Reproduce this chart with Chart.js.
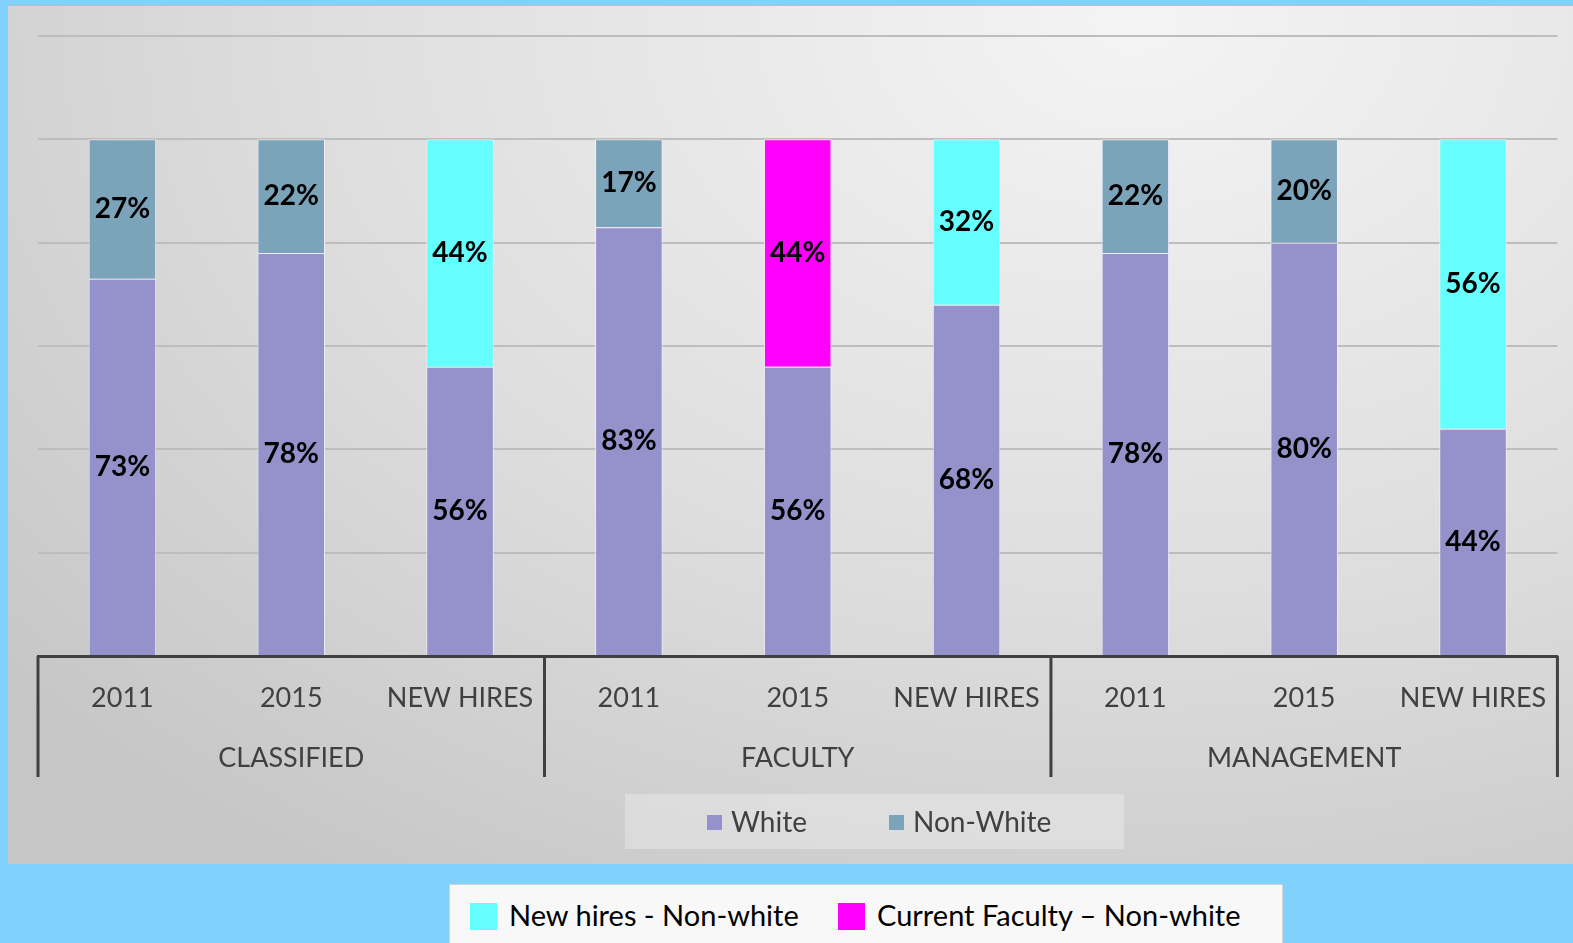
<!DOCTYPE html>
<html>
<head>
<meta charset="utf-8">
<script src="https://cdn.jsdelivr.net/npm/chart.js@4.4.1/dist/chart.umd.min.js"></script>
<style>
  html, body { margin: 0; padding: 0; }
  body { width: 1573px; height: 943px; background: #80d1fb; position: relative; overflow: hidden; font-family: Lato, sans-serif; }
  #panel {
    position: absolute; left: 8px; top: 5px; width: 1565px; height: 858px;
    background: radial-gradient(ellipse 95% 120% at 72% 2%, #f4f4f4 0%, #dedede 55%, #c6c6c6 100%);
    border-top: 1px solid #bdbdbd;
  }
  #wrap { position: absolute; left: 0; top: 0; width: 1565px; height: 858px; }
  #innerLegend {
    position: absolute; left: 617px; top: 788px; width: 499px; height: 55px;
    background: rgba(255,255,255,0.28);
    font-size: 28px; color: #404040;
  }
  .item { position: absolute; top: 0; height: 55px; line-height: 55px; white-space: nowrap; }
  .sw { display: inline-block; vertical-align: middle; margin-top: -4px; }
  #outerLegend {
    position: absolute; left: 449px; top: 884px; width: 832px; height: 70px;
    background: #f8f8f8; border: 1px solid #d4d4d4;
    font-size: 29px; color: #000;
  }
  #outerLegend .item { height: 60px; line-height: 60px; }
</style>
</head>
<body>
<div id="panel">
  <div id="wrap"><canvas id="chart"></canvas></div>
  <div id="innerLegend"></div>
</div>
<div id="outerLegend"></div>
<script>
// Data
const groups = ["CLASSIFIED", "FACULTY", "MANAGEMENT"];
const subLabels = ["2011", "2015", "NEW HIRES", "2011", "2015", "NEW HIRES", "2011", "2015", "NEW HIRES"];
const white = [73, 78, 56, 83, 56, 68, 78, 80, 44];
const nonWhite = [27, 22, 44, 17, 44, 32, 22, 20, 56];
// which kind of non-white segment each bar is
const topKind = ["nw", "nw", "hire", "nw", "faculty", "hire", "nw", "nw", "hire"];

const colors = {
  white: "#9491cb",
  nw: "#7ba3b9",
  hire: "#66ffff",
  faculty: "#ff00ff"
};

// Inner legend (series)
const innerItems = [["White", colors.white, 81], ["Non-White", colors.nw, 263]];
const innerLegend = document.getElementById("innerLegend");
innerItems.forEach(([name, col, x]) => {
  const d = document.createElement("div");
  d.className = "item";
  d.style.left = x + "px";
  d.innerHTML = `<span class="sw" style="width:15px;height:15px;background:${col};border:1px solid #ddd;margin-right:8px"></span>${name}`;
  innerLegend.appendChild(d);
});

// Outer legend (highlight colours)
const outerItems = [["New hires - Non-white", colors.hire, 20], ["Current Faculty \u2013 Non-white", colors.faculty, 388]];
const outerLegend = document.getElementById("outerLegend");
outerItems.forEach(([name, col, x]) => {
  const d = document.createElement("div");
  d.className = "item";
  d.style.left = x + "px";
  d.innerHTML = `<span class="sw" style="width:27px;height:27px;background:${col};margin-right:12px"></span>${name}`;
  outerLegend.appendChild(d);
});

// bar value labels
const valueLabels = {
  id: "valueLabels",
  afterDatasetsDraw(chart) {
    const ctx = chart.ctx;
    ctx.save();
    ctx.font = "bold 28px Lato";
    ctx.fillStyle = "#000";
    ctx.textAlign = "center";
    ctx.textBaseline = "middle";
    chart.data.datasets.forEach((ds, i) => {
      chart.getDatasetMeta(i).data.forEach((bar, j) => {
        const y = (bar.y + bar.base) / 2;
        ctx.fillText(ds.data[j] + "%", bar.x, y);
      });
    });
    ctx.restore();
  }
};

// group separators on the two-level category axis
const separators = {
  id: "separators",
  afterDraw(chart) {
    const x = chart.scales.x, x2 = chart.scales.x2;
    const ctx = chart.ctx;
    const per = subLabels.length / groups.length;
    ctx.save();
    ctx.strokeStyle = "#404040";
    ctx.lineWidth = 3;
    for (let g = 0; g <= groups.length; g++) {
      let px;
      if (g === 0) px = x.left;
      else if (g === groups.length) px = x.right;
      else px = (x.getPixelForTick(g * per - 1) + x.getPixelForTick(g * per)) / 2;
      ctx.beginPath();
      ctx.moveTo(px, chart.chartArea.bottom);
      ctx.lineTo(px, x2.bottom);
      ctx.stroke();
    }
    ctx.restore();
  }
};

new Chart(document.getElementById("chart").getContext("2d"), {
  type: "bar",
  data: {
    labels: subLabels,
    datasets: [
      {
        label: "White",
        data: white,
        backgroundColor: colors.white,
        borderColor: "rgba(240,240,255,0.8)",
        borderWidth: 1,
        barPercentage: 0.4,
        categoryPercentage: 1
      },
      {
        label: "Non-White",
        data: nonWhite,
        backgroundColor: topKind.map(k => colors[k]),
        borderColor: "rgba(240,240,255,0.8)",
        borderWidth: 1,
        barPercentage: 0.4,
        categoryPercentage: 1
      }
    ]
  },
  options: {
    responsive: true,
    maintainAspectRatio: false,
    animation: false,
    layout: { padding: { left: 30, right: 14, top: 30, bottom: 87 } },
    plugins: {
      legend: { display: false },
      tooltip: { enabled: false }
    },
    scales: {
      x: {
        stacked: true,
        grid: { display: false, drawTicks: false },
        border: { display: true, color: "#404040", width: 3 },
        ticks: { color: "#404040", font: { family: "Lato", size: 27 }, padding: 26, maxRotation: 0, autoSkip: false },
        afterFit: s => { s.height = 62; }
      },
      x2: {
        type: "category",
        labels: groups,
        position: "bottom",
        grid: { display: false, drawTicks: false },
        border: { display: false },
        ticks: { color: "#404040", font: { family: "Lato", size: 27 }, padding: 24 },
        afterFit: s => { s.height = 59; }
      },
      y: {
        stacked: true,
        min: 0,
        max: 120,
        ticks: { display: false, stepSize: 20 },
        border: { display: false },
        grid: { color: "#bdbdbd", lineWidth: 2, drawTicks: false }
      }
    }
  },
  plugins: [valueLabels, separators]
});
</script>
</body>
</html>
